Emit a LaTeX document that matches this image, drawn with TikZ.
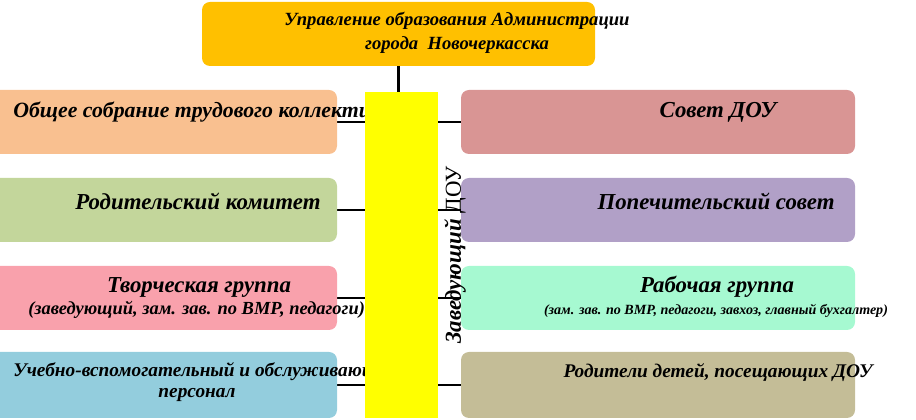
\documentclass[tikz,border=0pt]{standalone}
\usepackage{fontspec}
\setmainfont{Liberation Serif}
\usetikzlibrary{backgrounds}

\definecolor{topfill}{HTML}{FFC000}
\definecolor{headfill}{HTML}{FFFF00}
\definecolor{peach}{HTML}{F9C090}
\definecolor{olive}{HTML}{C3D69B}
\definecolor{rose}{HTML}{F9A1AC}
\definecolor{sky}{HTML}{93CDDD}
\definecolor{brick}{HTML}{D99594}
\definecolor{lilac}{HTML}{B1A0C7}
\definecolor{mint}{HTML}{A6F9D1}
\definecolor{khaki}{HTML}{C4BD97}

\tikzset{
  unit/.style={rounded corners=0.16cm, minimum height=1.28cm, inner sep=0pt},
  leftunit/.style={unit, minimum width=7.14cm},
  rightunit/.style={unit, minimum width=7.88cm},
  big/.style={font=\fontsize{13}{15}\selectfont\bfseries\itshape, inner sep=0pt},
  mid/.style={font=\fontsize{11}{13.6}\selectfont\bfseries\itshape, inner sep=0pt},
  small/.style={font=\fontsize{10.5}{13}\selectfont\bfseries\itshape, inner sep=0pt},
  tiny/.style={font=\fontsize{8}{10}\selectfont\bfseries\itshape, inner sep=0pt},
  link/.style={line width=1.5pt}
}

\begin{document}
\begin{tikzpicture}
\useasboundingbox (0,0) rectangle (18.32,8.40);
% управление
\node[unit, fill=topfill, minimum width=7.86cm] (top) at (7.97,7.72) {};
\node[font=\fontsize{10.6}{13.6}\selectfont\bfseries\itshape, inner sep=0pt, align=center] (toptext) at (9.14,7.74)
  {Управление образования Администрации\\города~~Новочеркасска};
% ---------- левая колонка ----------
\node[leftunit, fill=peach] (l1) at (3.17,5.96) {};
\node[leftunit, fill=olive] (l2) at (3.17,4.20) {};
\node[leftunit, fill=rose] (l3) at (3.17,2.44) {};
\node[leftunit, fill=sky, minimum height=1.32cm] (l4) at (3.17,0.70) {};
% ---------- правая колонка ----------
\node[rightunit, fill=brick] (r1) at (13.16,5.96) {};
\node[rightunit, fill=lilac] (r2) at (13.16,4.20) {};
\node[rightunit, fill=mint] (r3) at (13.16,2.44) {};
\node[rightunit, fill=khaki, minimum height=1.32cm] (r4) at (13.16,0.70) {};
% тексты
\node[big, font=\fontsize{12.4}{15}\selectfont\bfseries\itshape, anchor=west] (l1text) at (0.26,6.16)
  {Общее собрание трудового коллектива};
\node[big] (l2text) at (3.96,4.38) {Родительский комитет};
\node[big] (l3text) at (3.98,2.66) {Творческая группа};
\node[small, anchor=west] (l3sub) at (0.56,2.20) {(заведующий, зам. зав. по ВМР, педагоги)};
\node[mid, anchor=west] (l4text) at (0.26,0.96) {Учебно-вспомогательный и обслуживающий};
\node[mid] (l4sub) at (3.94,0.50) {персонал};
\node[big] (r1text) at (14.36,6.16) {Совет ДОУ};
\node[big] (r2text) at (14.32,4.38) {Попечительский совет};
\node[big] (r3text) at (14.34,2.66) {Рабочая группа};
\node[tiny] (r3sub) at (14.32,2.18) {(зам. зав. по ВМР, педагоги, завхоз, главный бухгалтер)};
\node[mid] (r4text) at (14.36,0.94) {Родители детей, посещающих ДОУ};
% заведующий
\node[fill=headfill, minimum width=1.45cm, minimum height=6.52cm, inner sep=0pt] (head) at (8.025,3.30) {};
\node[rotate=90, font=\fontsize{13}{15}\selectfont, inner sep=0pt] (headtext) at (9.10,3.30)
  {\textbf{\textit{Заведующий}} ДОУ};
% связи
\begin{scope}[on background layer]
\draw[link] (top.south) -- (top.south |- head.north);
\foreach \n in {1,...,4} {
  \draw[link] (l\n.east) -- (l\n.east -| head.west);
  \draw[link] (r\n.west) -- (r\n.west -| head.east);
}
\end{scope}
\end{tikzpicture}
\end{document}
